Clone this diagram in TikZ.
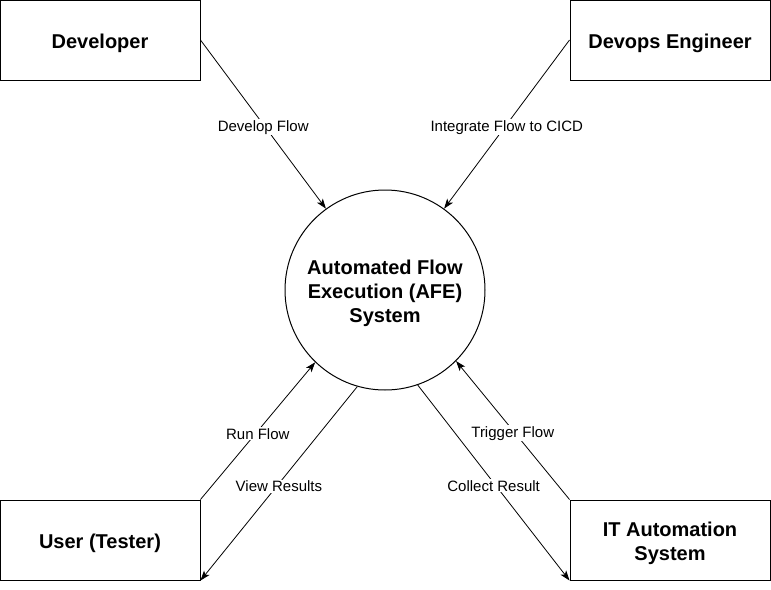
\documentclass[tikz,border=0pt]{standalone}
\usepackage{fontspec}
\setmainfont{Liberation Sans}
\usetikzlibrary{arrows.meta,positioning}
\newcommand{\capstrut}{\rule{0pt}{20.6pt}}

\begin{document}
\begin{tikzpicture}[x=1pt,y=-1pt,
  actor/.style={draw,line width=1pt,minimum width=200pt,minimum height=80pt,inner sep=0pt,align=center,font=\fontsize{20}{24}\selectfont\bfseries,execute at begin node=\capstrut},
  process/.style={draw,circle,line width=1pt,minimum size=200pt,inner sep=0pt,align=center,font=\fontsize{20}{24}\selectfont\bfseries},
  flow/.style={line width=0.8pt,-{Stealth[length=10pt,width=7pt,inset=2.5pt]}},
  flowlabel/.style={fill=white,inner sep=1pt,yshift=-3pt,font=\fontsize{15}{18}\selectfont}]
\useasboundingbox (0,0) rectangle (771,589);
% actors
\node[actor] (dev) at (100,40) {Developer};
\node[actor] (ops) at (670,40) {Devops Engineer};
\node[actor] (user) at (100,540) {User (Tester)};
\node[actor] (ita) at (670,540) {\capstrut IT Automation\\System};
% system
\node[process] (afe) at (385,290) {\capstrut Automated Flow\\Execution (AFE)\\System};
% flows
\draw[flow] (dev.east) -- (afe.126) node[flowlabel,midway] {Develop Flow};
\draw[flow] (ops.west) -- (afe.54) node[flowlabel,midway] {Integrate Flow to CICD};
\draw[flow] (user.north east) -- (afe.226) node[flowlabel,midway] {Run Flow};
\draw[flow] (afe.254) -- (user.south east) node[flowlabel,midway] {View Results};
\draw[flow] (ita.north west) -- (afe.315) node[flowlabel,midway] {Trigger Flow};
\draw[flow] (afe.289) -- (ita.south west) node[flowlabel,midway] {Collect Result};
\end{tikzpicture}
\end{document}
